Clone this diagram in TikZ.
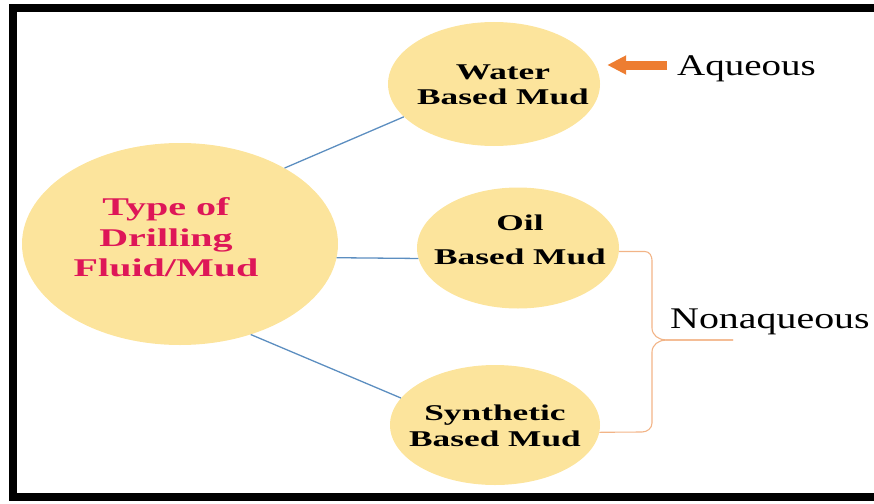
\documentclass[tikz,border=0pt]{standalone}
\usepackage{graphicx}
\usepackage{fontspec}
\setmainfont{Liberation Serif}
\usetikzlibrary{shapes.geometric,arrows.meta}
\definecolor{mudfill}{RGB}{252,228,156}
\definecolor{mudred}{RGB}{222,22,88}
\definecolor{linkblue}{RGB}{92,142,192}
\definecolor{arroworange}{RGB}{237,125,49}
\definecolor{braceorange}{RGB}{242,180,135}
% text of the picture is stretched sideways
\newcommand{\widebox}[2][1.57]{\scalebox{#1}[1]{\begin{tabular}{@{}c@{}}#2\end{tabular}}}
\tikzset{
  bubble/.style={ellipse, fill=mudfill, draw=none, inner sep=0pt},
  bubbletext/.style={align=center, inner sep=0pt,
    font=\bfseries\fontsize{22.5}{25}\selectfont},
  sidetext/.style={anchor=base west, inner sep=0pt,
    font=\fontsize{30}{34}\selectfont},
  link/.style={draw=linkblue, line width=1.3pt},
  brace/.style={draw=braceorange, line width=1.1pt, line join=round},
  aqarrow/.style={draw=arroworange, line width=9pt,
    -{Triangle[length=19pt,width=18pt]}, shorten >=7pt},
}
\begin{document}
\begin{tikzpicture}[x=1pt, y=-1pt]
   \useasboundingbox (0,0) rectangle (874,503);
   \draw[line width=8pt] (874,8) -- (13,8) -- (13,497) -- (874,497);   % frame
   \node[bubble, minimum width=316pt, minimum height=202pt] (main) at (180,244) {};
   \node[bubble, minimum width=212pt, minimum height=124pt] (water) at (494,84) {};
   \node[bubble, minimum width=202pt, minimum height=121pt] (oil) at (518,248) {};
   \node[bubble, minimum width=210pt, minimum height=120pt] (synth) at (495,425) {};
   \node[bubbletext, text=mudred, font=\bfseries\fontsize{25.5}{30.5}\selectfont]
      (maintext) at (166,240) {\widebox{Type of\\Drilling\\Fluid/Mud}};
   \node[bubbletext] (watertext) at (503,87) {\widebox{Water\\Based Mud}};
   \node[bubbletext] (oiltext) at (520,242) {\widebox{Oil\\[9pt]Based Mud}};
   \node[bubbletext] (synthtext) at (495,428) {\widebox{Synthetic\\[1pt]Based Mud}};
   \draw[link] (main.36) -- (water.200);
   \draw[link] (main.-5) -- (oil.186);
   \draw[link] (main.-52) -- (synth.164);
   \node[sidetext] (aqueous) at (677,75) {\scalebox{1.3}[1]{Aqueous}};
   \node[sidetext] (nonaqueous) at (670,328) {\scalebox{1.33}[1]{Nonaqueous}};
   \coordinate (arrowtail) at (667,65);
   \draw[aqarrow] (arrowtail) -- (arrowtail -| water.east);
   \coordinate (bracetip) at (733,340);
   \draw[brace] (oil.-2) -- ++(26,0) to[out=0,in=90] ++(7,9) -- (652,328)
      to[out=-90,in=180] (666,340) -- (bracetip);   % upper half
   \draw[brace] (bracetip) -- (666,340) to[out=180,in=90] (652,352) -- (652,423)
      to[out=-90,in=0] (642,432) -- (synth.-4);   % lower half
\end{tikzpicture}
\end{document}
